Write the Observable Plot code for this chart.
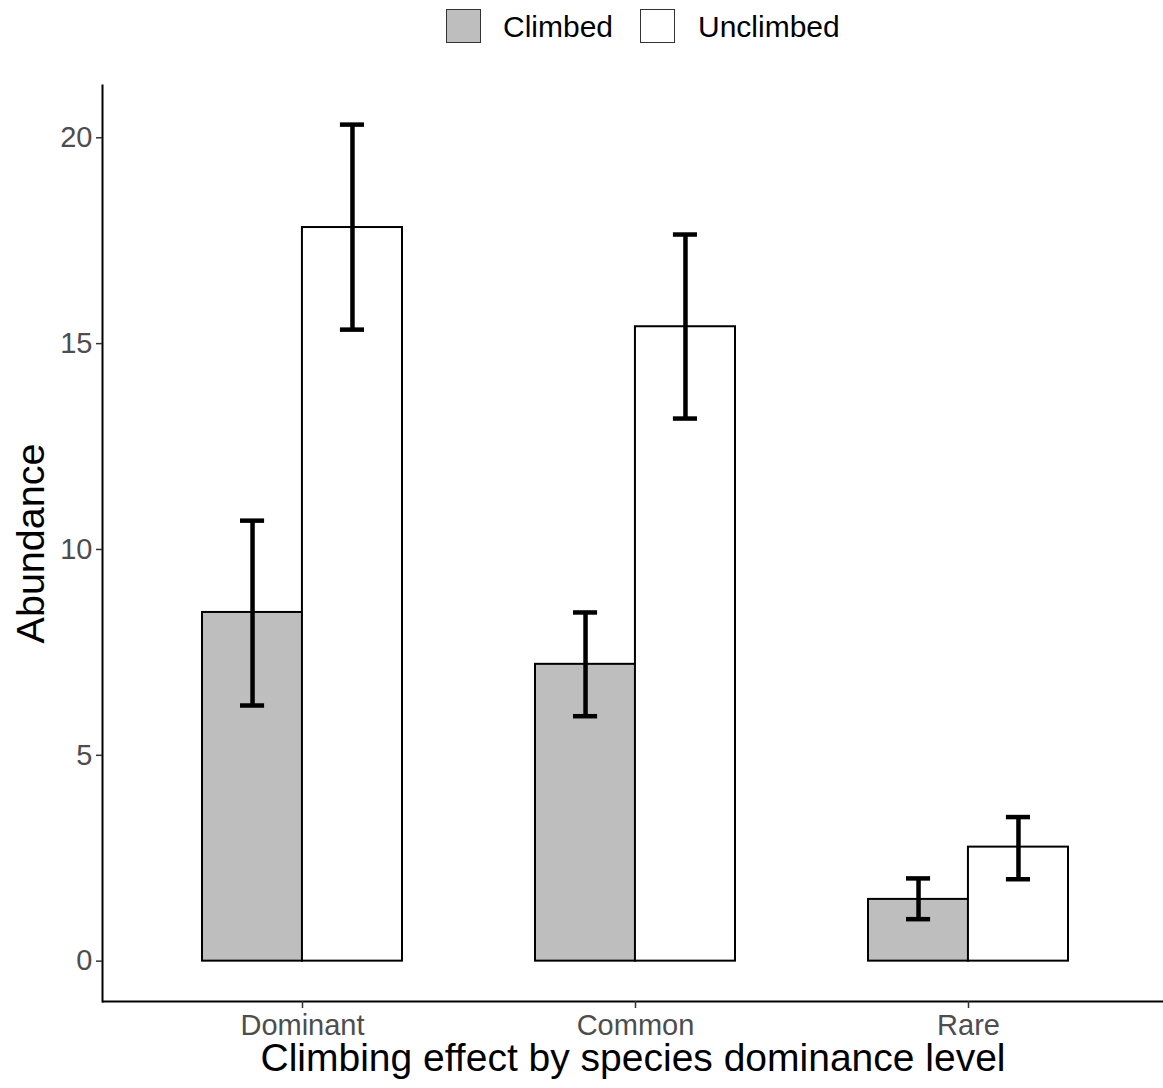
<!DOCTYPE html>
<html>
<head>
<meta charset="utf-8">
<script src="https://cdn.jsdelivr.net/npm/d3@7"></script>
<script src="https://cdn.jsdelivr.net/npm/@observablehq/plot@0.6"></script>
<style>
  html, body { margin: 0; padding: 0; background: #fff; }
  body { width: 1163px; height: 1088px; position: relative; overflow: hidden;
         font-family: "Liberation Sans", Arial, Helvetica, sans-serif; }
  #legend { position: relative; height: 57px; }
  .key { position: absolute; top: 9px; width: 33px; height: 32px; border: 1.6px solid #333; box-sizing: content-box; }
  .lab { position: absolute; top: 9px; height: 35px; line-height: 35px; font-size: 30px; color: #000; white-space: nowrap; }
  #chart svg { display: block; }
  #chart [aria-label="y-axis tick label"], #chart [aria-label="x-axis tick label"] { fill: #4d4d4d; }
  #chart [aria-label="y-axis tick"], #chart [aria-label="x-axis tick"] { stroke: #333; }
</style>
</head>
<body>
<div id="legend"></div>
<div id="chart"></div>
<script>
const categories = ["Dominant", "Common", "Rare"];
const groups = ["Climbed", "Unclimbed"];
const groupFill = ["#bebebe", "#ffffff"];
const climbedMean = [8.47, 7.21, 1.50];
const climbedLow = [6.21, 5.95, 1.02];
const climbedHigh = [10.70, 8.47, 2.01];
const unclimbedMean = [17.82, 15.41, 2.77];
const unclimbedLow = [15.34, 13.18, 1.99];
const unclimbedHigh = [20.32, 17.65, 3.50];
const yTicks = [0, 5, 10, 15, 20];
const yDomain = [-0.98, 21.27];
const xTitle = "Climbing effect by species dominance level";
const yTitle = "Abundance";

// legend
const legend = document.getElementById("legend");
const legendPos = [[446, 503], [640, 698]];
groups.forEach((g, i) => {
  const k = document.createElement("div");
  k.className = "key";
  k.style.left = legendPos[i][0] + "px";
  k.style.background = groupFill[i];
  legend.appendChild(k);
  const t = document.createElement("div");
  t.className = "lab";
  t.style.left = legendPos[i][1] + "px";
  t.textContent = g;
  legend.appendChild(t);
});

const rows = [];
categories.forEach((c, i) => {
  rows.push({category: c, group: groups[0], mean: climbedMean[i], low: climbedLow[i], high: climbedHigh[i]});
  rows.push({category: c, group: groups[1], mean: unclimbedMean[i], low: unclimbedLow[i], high: unclimbedHigh[i]});
});
const climbed = rows.filter(d => d.group === groups[0]);
const unclimbed = rows.filter(d => d.group === groups[1]);

const width = 1163, height = 1031;
const marginLeft = 102, marginRight = 0, marginTop = 28, marginBottom = 87;
const padIn = 0.4, padOut = 0.3;
const xRange = [102, 1168];
const step = (xRange[1] - xRange[0]) / (categories.length - padIn + 2 * padOut);
const bw = step * (1 - padIn);
const capHalf = 12;

const chart = Plot.plot({
  width, height, marginLeft, marginRight, marginTop, marginBottom,
  style: {fontFamily: '"Liberation Sans", Arial, Helvetica, sans-serif', background: "#fff", overflow: "hidden"},
  x: {domain: categories, range: xRange, paddingInner: padIn, paddingOuter: padOut, axis: null},
  y: {domain: yDomain, axis: null},
  color: {domain: groups, range: groupFill},
  marks: [
    Plot.barY(climbed, {x: "category", y: "mean", fill: "group", stroke: "#000", strokeWidth: 2, insetRight: bw / 2}),
    Plot.barY(unclimbed, {x: "category", y: "mean", fill: "group", stroke: "#000", strokeWidth: 2, insetLeft: bw / 2}),
    Plot.ruleX(climbed, {x: "category", y1: "low", y2: "high", dx: -bw / 4, stroke: "#000", strokeWidth: 4.5}),
    Plot.ruleX(unclimbed, {x: "category", y1: "low", y2: "high", dx: bw / 4, stroke: "#000", strokeWidth: 4.5}),
    Plot.tickY(climbed, {x: "category", y: "low", insetLeft: bw / 4 - capHalf, insetRight: 3 * bw / 4 - capHalf, stroke: "#000", strokeWidth: 4.5}),
    Plot.tickY(climbed, {x: "category", y: "high", insetLeft: bw / 4 - capHalf, insetRight: 3 * bw / 4 - capHalf, stroke: "#000", strokeWidth: 4.5}),
    Plot.tickY(unclimbed, {x: "category", y: "low", insetLeft: 3 * bw / 4 - capHalf, insetRight: bw / 4 - capHalf, stroke: "#000", strokeWidth: 4.5}),
    Plot.tickY(unclimbed, {x: "category", y: "high", insetLeft: 3 * bw / 4 - capHalf, insetRight: bw / 4 - capHalf, stroke: "#000", strokeWidth: 4.5}),
    Plot.ruleY([yDomain[0]], {stroke: "#000", strokeWidth: 2}),
    Plot.frame({anchor: "left", stroke: "#000", strokeWidth: 2}),
    Plot.axisY({ticks: yTicks, tickSize: 6, tickPadding: 4, fontSize: 29, label: null, strokeWidth: 1.5}),
    Plot.axisX({tickSize: 7, tickPadding: 6, fontSize: 29, label: null, strokeWidth: 1.5}),
    Plot.text([xTitle], {frameAnchor: "bottom", dy: 69, lineAnchor: "bottom", textAnchor: "middle", fontSize: 39, fill: "#000"}),
    Plot.text([yTitle], {frameAnchor: "left", dx: -59, rotate: -90, lineAnchor: "bottom", textAnchor: "middle", fontSize: 39.5, fill: "#000"})
  ]
});
document.getElementById("chart").appendChild(chart);
</script>
</body>
</html>
